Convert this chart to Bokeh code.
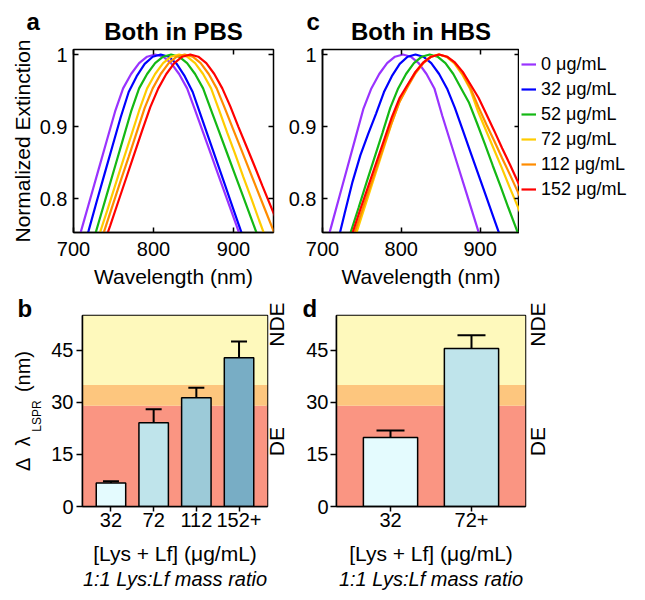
from math import pi
from bokeh.plotting import figure
from bokeh.layouts import column, row
from bokeh.models import (ColumnDataSource, FixedTicker, LinearAxis, Legend, LegendItem,
                          Title, BoxAnnotation, Whisker, TeeHead, Range1d)
from bokeh.embed import file_html
from bokeh.resources import INLINE

FONT = "Liberation Sans"
NBSP = "\u00a0"

# ---------------- data ----------------
conc_labels = ["0 μg/mL", "32 μg/mL", "52 μg/mL", "72 μg/mL", "112 μg/mL", "152 μg/mL"]
conc_colors = ["#9933FF", "#0000FF", "#14B814", "#FFCC00", "#FF8C00", "#FF0000"]

wl_ticks = [700, 800, 900]
ext_ticks = [0.8, 0.9, 1.0]
ext_tick_labels = ["0.8", "0.9", "1"]

# PBS spectra (normalized extinction vs wavelength, nm)
pbs_wl_0 = [692, 702, 712, 722, 732, 742, 752, 762, 772, 782, 792, 802, 812, 822, 832, 842, 852, 862, 872, 882, 892, 902, 912, 922]
pbs_ext_0 = [0.687, 0.726, 0.765, 0.804, 0.843, 0.882, 0.921, 0.953, 0.973, 0.988, 0.997, 1.000, 0.997, 0.988, 0.973, 0.953, 0.923, 0.892, 0.861, 0.830, 0.799, 0.768, 0.737, 0.706]
pbs_wl_32 = [699, 709, 719, 729, 739, 749, 759, 769, 779, 789, 799, 809, 819, 829, 839, 849, 859, 869, 879, 889, 899, 909, 919, 929]
pbs_ext_32 = [0.678, 0.717, 0.756, 0.796, 0.835, 0.874, 0.913, 0.948, 0.970, 0.987, 0.997, 1.000, 0.997, 0.987, 0.970, 0.948, 0.916, 0.884, 0.852, 0.820, 0.788, 0.756, 0.724, 0.692]
pbs_wl_52 = [712, 722, 732, 742, 752, 762, 772, 782, 792, 802, 812, 822, 832, 842, 852, 862, 872, 882, 892, 902, 912, 922, 932, 942]
pbs_ext_52 = [0.693, 0.731, 0.769, 0.807, 0.845, 0.883, 0.921, 0.953, 0.973, 0.988, 0.997, 1.000, 0.997, 0.988, 0.973, 0.953, 0.923, 0.893, 0.863, 0.833, 0.803, 0.773, 0.743, 0.713]
pbs_wl_72 = [712, 722, 732, 742, 752, 762, 772, 782, 792, 802, 812, 822, 832, 842, 852, 862, 872, 882, 892, 902, 912, 922, 932, 942, 952]
pbs_ext_72 = [0.679, 0.714, 0.749, 0.783, 0.818, 0.853, 0.887, 0.922, 0.953, 0.973, 0.988, 0.997, 1.000, 0.997, 0.988, 0.973, 0.953, 0.923, 0.892, 0.862, 0.831, 0.801, 0.770, 0.740, 0.709]
pbs_wl_112 = [719, 729, 739, 749, 759, 769, 779, 789, 799, 809, 819, 829, 839, 849, 859, 869, 879, 889, 899, 909, 919, 929, 939, 949, 959]
pbs_ext_112 = [0.690, 0.723, 0.757, 0.791, 0.825, 0.858, 0.892, 0.926, 0.953, 0.973, 0.988, 0.997, 1.000, 0.997, 0.988, 0.973, 0.953, 0.926, 0.898, 0.870, 0.842, 0.814, 0.786, 0.758, 0.730]
pbs_wl_152 = [726, 736, 746, 756, 766, 776, 786, 796, 806, 816, 826, 836, 846, 856, 866, 876, 886, 896, 906, 916, 926, 936, 946, 956]
pbs_ext_152 = [0.698, 0.731, 0.763, 0.796, 0.829, 0.862, 0.895, 0.927, 0.953, 0.973, 0.988, 0.997, 1.000, 0.997, 0.988, 0.973, 0.953, 0.928, 0.900, 0.873, 0.846, 0.818, 0.791, 0.764]

# HBS spectra
hbs_wl_0 = [692, 702, 712, 722, 732, 742, 752, 762, 772, 782, 792, 802, 812, 822, 832, 842, 852, 862, 872, 882, 892, 902, 912]
hbs_ext_0 = [0.685, 0.725, 0.765, 0.805, 0.845, 0.885, 0.925, 0.953, 0.973, 0.988, 0.997, 1.000, 0.997, 0.988, 0.973, 0.953, 0.915, 0.880, 0.845, 0.810, 0.775, 0.740, 0.705]
hbs_wl_32 = [708, 718, 728, 738, 748, 758, 768, 778, 788, 798, 808, 818, 828, 838, 848, 858, 868, 878, 888, 898, 908, 918, 928, 938]
hbs_ext_32 = [0.689, 0.734, 0.779, 0.823, 0.860, 0.890, 0.918, 0.948, 0.970, 0.987, 0.997, 1.000, 0.997, 0.988, 0.973, 0.953, 0.926, 0.895, 0.864, 0.833, 0.802, 0.771, 0.740, 0.709]
hbs_wl_52 = [726, 736, 746, 756, 766, 776, 786, 796, 806, 816, 826, 836, 846, 856, 866, 876, 886, 896, 906, 916, 926, 936, 946, 956]
hbs_ext_52 = [0.719, 0.754, 0.788, 0.823, 0.857, 0.891, 0.926, 0.953, 0.973, 0.988, 0.997, 1.000, 0.997, 0.988, 0.973, 0.953, 0.933, 0.905, 0.876, 0.846, 0.817, 0.787, 0.758, 0.728]
hbs_wl_72 = [727, 737, 747, 757, 767, 777, 787, 797, 807, 817, 827, 837, 847, 857, 867, 877, 887, 897, 907, 917, 927, 937, 947, 957]
hbs_ext_72 = [0.698, 0.732, 0.766, 0.800, 0.834, 0.868, 0.902, 0.933, 0.955, 0.974, 0.988, 0.997, 1.000, 0.997, 0.988, 0.973, 0.953, 0.922, 0.896, 0.870, 0.844, 0.817, 0.791, 0.765]
hbs_wl_112 = [728, 738, 748, 758, 768, 778, 788, 798, 808, 818, 828, 838, 848, 858, 868, 878, 888, 898, 908, 918, 928, 938, 948, 958]
hbs_ext_112 = [0.711, 0.744, 0.776, 0.809, 0.841, 0.874, 0.906, 0.935, 0.955, 0.974, 0.988, 0.997, 1.000, 0.997, 0.988, 0.973, 0.953, 0.927, 0.903, 0.880, 0.856, 0.833, 0.809, 0.786]
hbs_wl_152 = [728, 738, 748, 758, 768, 778, 788, 798, 808, 818, 828, 838, 848, 858, 868, 878, 888, 898, 908, 918, 928, 938, 948, 958]
hbs_ext_152 = [0.720, 0.752, 0.785, 0.817, 0.849, 0.881, 0.913, 0.940, 0.958, 0.976, 0.989, 0.997, 1.000, 0.997, 0.989, 0.976, 0.958, 0.940, 0.917, 0.894, 0.870, 0.847, 0.823, 0.799]

pbs_wl = [pbs_wl_0, pbs_wl_32, pbs_wl_52, pbs_wl_72, pbs_wl_112, pbs_wl_152]
pbs_ext = [pbs_ext_0, pbs_ext_32, pbs_ext_52, pbs_ext_72, pbs_ext_112, pbs_ext_152]
hbs_wl = [hbs_wl_0, hbs_wl_32, hbs_wl_52, hbs_wl_72, hbs_wl_112, hbs_wl_152]
hbs_ext = [hbs_ext_0, hbs_ext_32, hbs_ext_52, hbs_ext_72, hbs_ext_112, hbs_ext_152]

# bar panels: LSPR shift (nm)
b_cats = ["32", "72", "112", "152+"]
b_shift = [6.8, 24.1, 31.3, 42.8]
b_err = [0.5, 3.9, 2.9, 4.7]
b_colors = ["#E4FBFE", "#BFE4EB", "#9CCAD8", "#78ADC5"]

d_cats = ["32", "72+"]
d_shift = [19.9, 45.5]
d_err = [2.0, 3.8]
d_colors = ["#E4FBFE", "#BFE4EB"]

shift_ticks = [0, 15, 30, 45]
DE_MAX = 29      # detection zone upper limit
NDE_MIN = 35     # non-detection zone lower limit
SHIFT_MAX = 55
zone_labels = ["DE", "NDE"]

ZONE_RED = "#FA9582"
ZONE_ORANGE = "#FDC67E"
ZONE_YELLOW = "#FEF9BC"

TICK_FS = "20px"
LABEL_FS = "21px"


def base_style(p):
    p.xgrid.grid_line_color = None
    p.ygrid.grid_line_color = None
    p.outline_line_color = "black"
    p.outline_line_width = 1.5
    p.outline_line_alpha = 1.0
    p.background_fill_color = "white"
    p.border_fill_color = "white"
    for ax in p.xaxis + p.yaxis:
        ax.major_label_text_font = FONT
        ax.major_label_text_font_size = TICK_FS
        ax.major_label_text_color = "black"
        ax.axis_line_color = "black"
        ax.axis_line_width = 1.5
        ax.major_tick_line_color = "black"
        ax.major_tick_line_width = 1.5
        ax.minor_tick_line_color = None
        ax.axis_label_text_font = FONT
        ax.axis_label_text_font_size = LABEL_FS
        ax.axis_label_text_font_style = "normal"
        ax.axis_label_text_color = "black"


def mirror_axis(ticks):
    return LinearAxis(ticker=FixedTicker(ticks=ticks), major_tick_in=5, major_tick_out=0,
                      major_label_text_font_size="0px", major_label_text_color=None,
                      major_label_standoff=0, axis_line_color=None,
                      major_tick_line_color="black", major_tick_line_width=1.5,
                      minor_tick_line_color=None)


def bold_title(text, align, offset, standoff, size="24px"):
    return Title(text=text, align=align, offset=offset, standoff=standoff, text_font=FONT,
                 text_font_size=size, text_font_style="bold", text_color="black")


def spectrum_panel(width, bl, br, wls, exts, title, letter, letter_offset, ylabel):
    p = figure(width=width, height=290, x_range=Range1d(700, 950), y_range=Range1d(0.753, 1.007),
               output_backend="svg", toolbar_location=None, frame_align=False,
               min_border_left=bl, min_border_right=br, min_border_top=49, min_border_bottom=58)
    for wl, ex, c in zip(wls, exts, conc_colors):
        p.line(wl, ex, line_color=c, line_width=2.2)
    base_style(p)
    p.xaxis.ticker = FixedTicker(ticks=wl_ticks)
    p.yaxis.ticker = FixedTicker(ticks=ext_ticks)
    p.yaxis.major_label_overrides = dict(zip(ext_ticks, ext_tick_labels))
    for ax in p.xaxis + p.yaxis:
        ax.major_tick_in = 5
        ax.major_tick_out = 0
    p.xaxis.major_label_standoff = 9
    p.yaxis.major_label_standoff = 6
    p.xaxis.axis_label = "Wavelength (nm)"
    p.xaxis.axis_label_standoff = 6
    if ylabel:
        p.yaxis.axis_label = ylabel
        p.yaxis.axis_label_standoff = 3
    p.add_layout(mirror_axis(ext_ticks), "right")
    p.add_layout(mirror_axis(wl_ticks), "above")
    p.add_layout(bold_title(title, "center", 0, 10), "above")
    p.add_layout(bold_title(letter, "left", letter_offset, -48), "above")
    return p


pa = spectrum_panel(280, 73, 7, pbs_wl, pbs_ext, "Both in PBS", "a", -47, "Normalized Extinction")
pc = spectrum_panel(239, 42, 0, hbs_wl, hbs_ext, "Both in HBS", "c", -16, None)

# legend panel to the right of c (its lines lie outside its own view; only the key shows)
pl = figure(width=124, height=290, x_range=Range1d(0, 1), y_range=Range1d(0, 1),
            output_backend="svg", toolbar_location=None, frame_align=False,
            x_axis_location=None, y_axis_location=None,
            min_border_left=0, min_border_right=0, min_border_top=51, min_border_bottom=0)
pl.grid.visible = False
pl.outline_line_color = None
pl.background_fill_color = "white"
pl.border_fill_color = "white"
items = []
for lab, col, wl, ex in zip(conc_labels, conc_colors, hbs_wl, hbs_ext):
    r = pl.line(wl, ex, line_color=col, line_width=2.2)
    items.append(LegendItem(label=lab, renderers=[r]))
legend = Legend(items=items, location="top_left", orientation="vertical", margin=2, padding=4,
                spacing=3, label_height=22, glyph_height=20, glyph_width=15, label_standoff=5,
                label_text_font=FONT, label_text_font_size="18px", label_text_color="black",
                border_line_color=None, background_fill_alpha=0)
pl.add_layout(legend)


def bar_panel(width, bl, br, cats, shifts, errs, colors, bar_w, head, letter, letter_offset,
              zone_standoff, ytick_standoff, with_ylabel):
    n = len(cats)
    xs = list(range(1, n + 1))
    x0, x1 = 1 - 0.667, n + 0.667
    p = figure(width=width, height=308, x_range=Range1d(x0, x1), y_range=Range1d(0, SHIFT_MAX),
               output_backend="svg", toolbar_location=None, frame_align=False,
               min_border_left=bl, min_border_right=br, min_border_top=25, min_border_bottom=92)
    for lo, hi, col in [(0, DE_MAX, ZONE_RED), (DE_MAX, NDE_MIN, ZONE_ORANGE), (NDE_MIN, None, ZONE_YELLOW)]:
        p.add_layout(BoxAnnotation(bottom=lo, top=hi, fill_color=col, fill_alpha=1.0,
                                   line_color=None, level="underlay"))
    p.vbar(x=xs, top=shifts, bottom=0, width=bar_w, fill_color=colors, line_color="black",
           line_width=1.5)
    src = ColumnDataSource(dict(x=xs, lower=shifts, upper=[s + e for s, e in zip(shifts, errs)]))
    w = Whisker(base="x", lower="lower", upper="upper", source=src, line_width=2, line_color="black",
                upper_head=TeeHead(size=head, line_width=2, line_color="black"), lower_head=None,
                level="overlay")
    p.add_layout(w)
    base_style(p)
    p.xaxis.ticker = FixedTicker(ticks=xs)
    p.xaxis.major_label_overrides = dict(zip(xs, cats))
    p.yaxis.ticker = FixedTicker(ticks=shift_ticks)
    p.xaxis.major_tick_in = 0
    p.xaxis.major_tick_out = 5
    p.xaxis.major_label_standoff = 1
    p.yaxis.major_tick_in = 0
    p.yaxis.major_tick_out = 6
    p.yaxis.major_label_standoff = ytick_standoff
    p.xaxis.axis_label = "[Lys + Lf] (μg/mL)"
    p.xaxis.axis_label_standoff = 12
    p.add_layout(Title(text="1:1 Lys:Lf mass ratio", align="center", standoff=-3, text_font=FONT,
                       text_font_size="20px", text_font_style="italic", text_color="black"), "below")
    # zone names on the right
    zone_pos = [DE_MAX / 2, 46]
    zax = LinearAxis(ticker=FixedTicker(ticks=zone_pos),
                     major_label_overrides=dict(zip(zone_pos, zone_labels)),
                     major_label_orientation=pi / 2, major_tick_out=0, major_tick_in=0,
                     major_tick_line_color=None, axis_line_color=None, minor_tick_line_color=None,
                     major_label_standoff=zone_standoff, major_label_text_font=FONT,
                     major_label_text_font_size="21px", major_label_text_color="black")
    p.add_layout(zax, "right")
    p.add_layout(bold_title(letter, "left", letter_offset, -13), "above")
    if with_ylabel:
        sub_ax = LinearAxis(ticker=FixedTicker(ticks=[]), axis_line_color=None,
                            major_tick_line_color=None, major_tick_out=0, major_tick_in=0,
                            minor_tick_line_color=None, axis_label="LSPR" + NBSP * 3,
                            axis_label_text_font=FONT, axis_label_text_font_size="12px",
                            axis_label_text_font_style="normal", axis_label_text_color="black",
                            axis_label_standoff=5)
        p.add_layout(sub_ax, "left")
        main_ax = LinearAxis(ticker=FixedTicker(ticks=[]), axis_line_color=None,
                             major_tick_line_color=None, major_tick_out=0, major_tick_in=0,
                             minor_tick_line_color=None,
                             axis_label="Δ" + NBSP * 2 + "λ" + NBSP * 8 + "(nm)",
                             axis_label_text_font=FONT, axis_label_text_font_size="20px",
                             axis_label_text_font_style="normal", axis_label_text_color="black",
                             axis_label_standoff=-7)
        p.add_layout(main_ax, "left")
    return p


pb = bar_panel(302, 82, 33, b_cats, b_shift, b_err, b_colors, 0.69, 16, "b", -65, 9, 3, True)
pd = bar_panel(341, 34, 118, d_cats, d_shift, d_err, d_colors, 0.67, 28, "d", -34, 12, 2, False)

layout = column(row(pa, pc, pl), row(pb, pd))

with open("out.html", "w") as f:
    f.write(file_html(layout, INLINE))
